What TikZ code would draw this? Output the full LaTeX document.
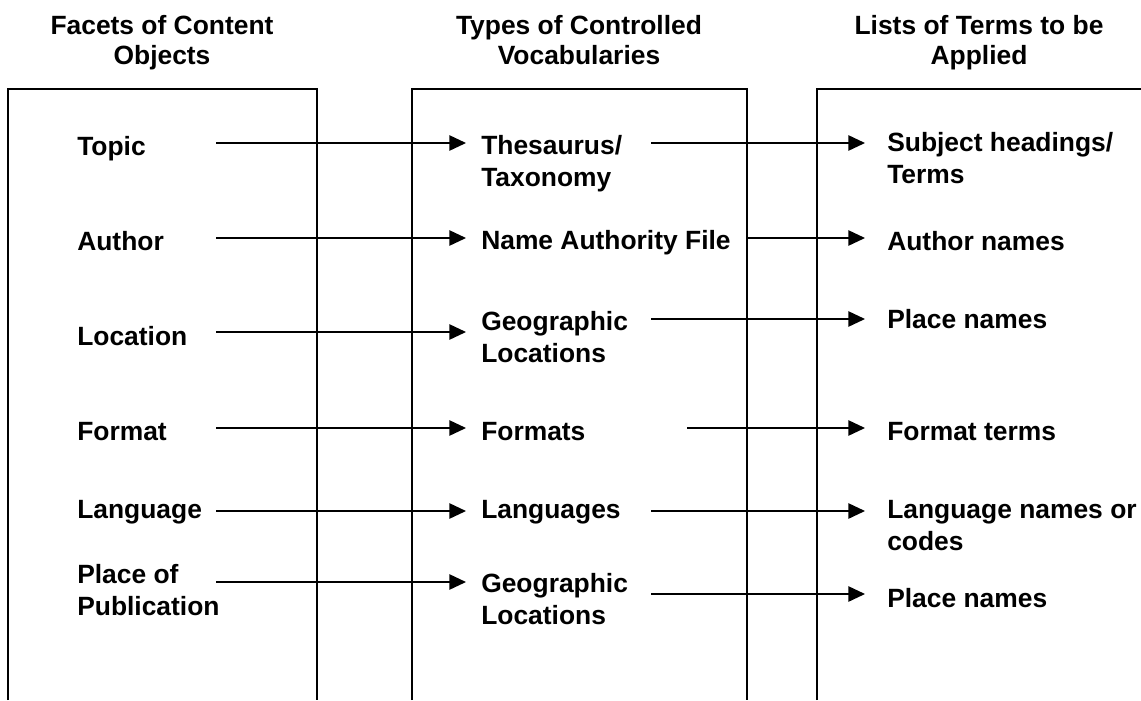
\documentclass[tikz,border=0pt]{standalone}
\usepackage{fontspec}
\setmainfont{Liberation Sans}
\usetikzlibrary{arrows.meta,positioning}
\tikzset{>/.tip={Triangle[length=12.5pt,width=11.5pt]}}

\begin{document}
\begin{tikzpicture}[x=0.75pt,y=-0.75pt,
    every node/.style={inner sep=0pt,font=\fontsize{19.8}{24}\bfseries},
    head/.style={anchor=base,align=center,font=\fontsize{19.8}{22.5}\bfseries},
    lbl/.style={anchor=base west,align=left},
    arr/.style={->,line width=1.2pt},
    col/.style={line width=0.8pt}]
  \useasboundingbox (0,0) rectangle (1141,700);
  % headings (placed at the baseline of their last line)
  \node(hFacet)[head] at (162,64) {Facets of Content\\Objects};
  \node(hVocab)[head] at (579,64) {Types of Controlled\\Vocabularies};
  \node(hTerms)[head] at (979,64) {Lists of Terms to be\\Applied};
  % columns (open at the bottom)
  \draw[col] (8,700) |- (317,89) -- (317,700);
  \draw[col] (412,700) |- (747,89) -- (747,700);
  \draw[col] (817,700) |- (1141,89);
  % facets
  \node(topic)[lbl] at (77,155) {Topic};
  \node(author)[lbl] at (77,250) {Author};
  \node(location)[lbl] at (77,345) {Location};
  \node(format)[lbl] at (77,440) {Format};
  \node(language)[lbl] at (77,518) {Language};
  \node(pubplace)[lbl] at (77,615) {Place of\\Publication};
  % vocabularies
  \node(thes)[lbl] at (481,186) {Thesaurus/\\Taxonomy};
  \node(naf)[lbl] at (481,249) {Name Authority File};
  \node(geo)[lbl] at (481,362) {Geographic\\Locations};
  \node(formats)[lbl] at (481,440) {Formats};
  \node(langs)[lbl] at (481,518) {Languages};
  \node(geoB)[lbl] at (481,624) {Geographic\\Locations};
  % terms
  \node(subj)[lbl] at (887,183) {Subject headings/\\Terms};
  \node(authn)[lbl] at (887,250) {Author names};
  \node(placen)[lbl] at (887,328) {Place names};
  \node(formt)[lbl] at (887,440) {Format terms};
  \node(langn)[lbl] at (887,550) {Language names or\\codes};
  \node(placenB)[lbl] at (887,607) {Place names};
  % free ends of the arrows
  \foreach \y [count=\i] in {143,238,332,428,511,582}
    \coordinate(s\i) at (216,\y);
  \coordinate(t1) at (651,143);
  \coordinate(t2) at (746,238);
  \coordinate(t3) at (651,319);
  \coordinate(t4) at (687,428);
  \coordinate(t5) at (651,511);
  \coordinate(t6) at (651,594);
  \path[arr,shorten >=11.25pt]
    (s1) edge (s1 -| thes.west)
    (s2) edge (s2 -| naf.west)
    (s3) edge (s3 -| geo.west)
    (s4) edge (s4 -| formats.west)
    (s5) edge (s5 -| langs.west)
    (s6) edge (s6 -| geoB.west);
  \path[arr,shorten >=16.5pt]
    (t1) edge (t1 -| subj.west)
    (t2) edge (t2 -| authn.west)
    (t3) edge (t3 -| placen.west)
    (t4) edge (t4 -| formt.west)
    (t5) edge (t5 -| langn.west)
    (t6) edge (t6 -| placenB.west);
\end{tikzpicture}
\end{document}
